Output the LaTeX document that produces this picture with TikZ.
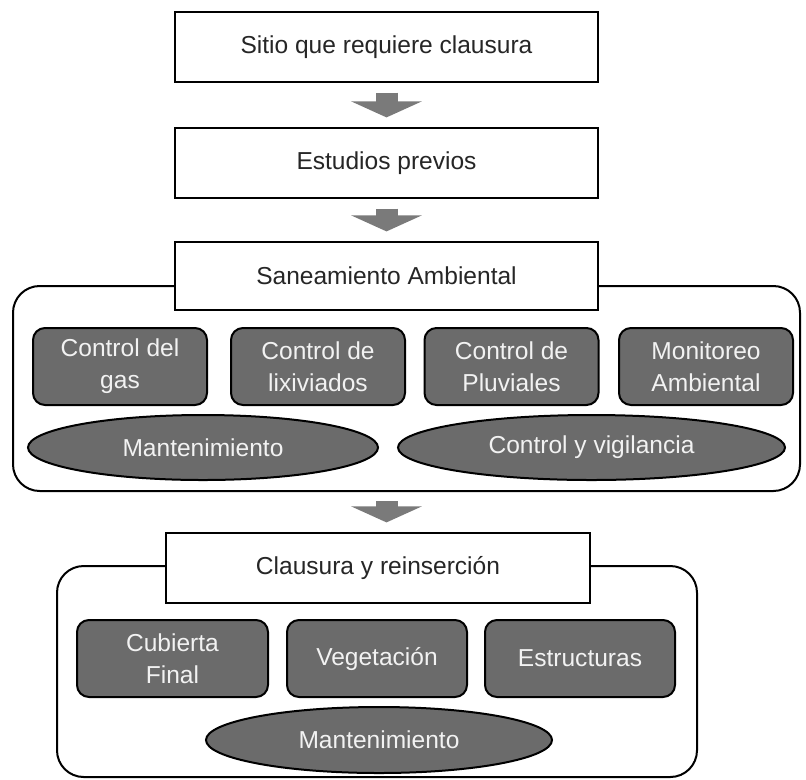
\documentclass[tikz,border=0pt]{standalone}
\usepackage{fontspec}
\setmainfont{Liberation Sans}
\usetikzlibrary{shapes.geometric,arrows.meta}
\definecolor{BoxGrey}{HTML}{6B6B6B}
\definecolor{ArrowGrey}{HTML}{7A7A7A}
\definecolor{LabelWhite}{HTML}{F2F2F2}
\newcommand{\FlowPx}{0.75pt}

\begin{document}
\begin{tikzpicture}[x=\FlowPx, y=-\FlowPx, font=\fontsize{18.4}{24}\selectfont,
                    stage/.style = { draw=black, line width=1.9pt, fill=white, text=black!85,
                                     minimum width=423*\FlowPx, minimum height=70*\FlowPx, inner sep=0pt },
                    container/.style = { draw=black, line width=1.5pt, rounded corners=20pt, inner sep=0pt },
                    task/.style = { draw=black, line width=1.5pt, fill=BoxGrey, rounded corners=9pt,
                                    text=LabelWhite, align=center, minimum height=77*\FlowPx, inner sep=0pt },
                    duty/.style = { ellipse, draw=black, line width=1.5pt, fill=BoxGrey, text=LabelWhite,
                                    minimum height=65*\FlowPx, inner sep=0pt },
                    flow/.style = { ArrowGrey, line width=16.5pt, shorten <=7pt, shorten >=7pt,
                                    -{Triangle[length=12pt, width=52.5pt]} }]

  \useasboundingbox (0,0) rectangle (806,779);

  \node (sitio) at(386.5, 47)   [stage] {Sitio que requiere clausura};
  \node (estudios) at(386.5,163) [stage] {Estudios previos};

  % saneamiento
  \node (sanecont) at(406.5,388.5) [container, minimum width=787*\FlowPx, minimum height=205*\FlowPx] {};
  \node (sane) at(386.5,276)    [stage, minimum height=68*\FlowPx] {Saneamiento Ambiental};
  \node (gas) at(120,366.5)     [task, minimum width=174*\FlowPx] {Control del\\gas};
  \node (lixiv) at(318,366.5)   [task, minimum width=174*\FlowPx] {Control de\\lixiviados};
  \node (pluv) at(511.5,366.5)  [task, minimum width=174*\FlowPx] {Control de\\Pluviales};
  \node (monit) at(706,366.5)   [task, minimum width=174*\FlowPx] {Monitoreo\\Ambiental};
  \node (mant) at(203,447.5)    [duty, minimum width=350*\FlowPx] {Mantenimiento};
  \node (vigil) at(591.5,447.5) [duty, minimum width=387*\FlowPx] {Control y vigilancia};

  % clausura
  \node (claucont) at(377,671.5) [container, minimum width=640*\FlowPx, minimum height=211*\FlowPx] {};
  \node (clau) at(378,568)       [stage, minimum width=424*\FlowPx] {Clausura y reinserción};
  \node (cubierta) at(172.5,658.5) [task, minimum width=191*\FlowPx] {Cubierta\\Final};
  \node (vegeta) at(377,658.5)   [task, minimum width=180*\FlowPx] {Vegetación};
  \node (estruct) at(580,658.5)  [task, minimum width=190*\FlowPx] {Estructuras};
  \node (mantfin) at(379,740)    [duty, minimum width=346*\FlowPx, minimum height=66*\FlowPx] {Mantenimiento};

  \draw [flow] (sitio) -- (estudios);
  \draw [flow] (estudios) -- (sane);
  \draw [flow] (sanecont.south -| sane.south) -- (clau.north -| sane.south);
\end{tikzpicture}
\end{document}
